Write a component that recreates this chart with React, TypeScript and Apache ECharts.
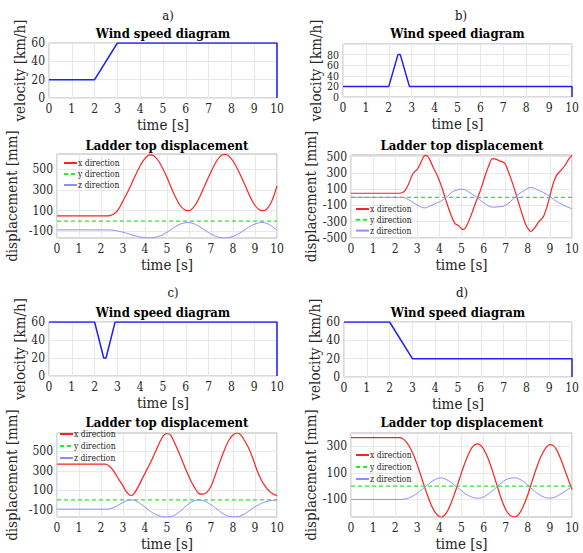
import React, { useEffect, useRef } from "react";
import * as echarts from "echarts";

type Pt = [number, number];

// ---------- data ----------
const panelLabels = ["a)", "b)", "c)", "d)"];
const windTitle = "Wind speed diagram";
const dispTitle = "Ladder top displacement";
const seriesNames = ["x direction", "y direction", "z direction"];

const windA: Pt[] = [[0, 20], [2, 20], [3, 60], [10, 60], [10, 0]];
const windB: Pt[] = [[0, 20], [2, 20], [2.4, 80], [2.5, 80], [2.9, 20], [10, 20], [10, 0]];
const windC: Pt[] = [[0, 60], [2, 60], [2.4, 20], [2.5, 20], [2.9, 60], [10, 60], [10, 0]];
const windD: Pt[] = [[0, 60], [2, 60], [3, 20], [10, 20], [10, 0]];

const dispAX: Pt[] = [[0, 50], [2.2, 50], [2.4, 53], [2.6, 70], [2.8, 115], [3.0, 195], [3.2, 275], [3.4, 365], [3.6, 458], [3.8, 542], [4.0, 605], [4.2, 640], [4.4, 632], [4.6, 585], [4.8, 510], [5.0, 420], [5.2, 320], [5.4, 225], [5.6, 150], [5.8, 108], [5.95, 100], [6.1, 110], [6.3, 160], [6.5, 240], [6.7, 335], [6.9, 430], [7.1, 520], [7.3, 595], [7.5, 638], [7.65, 645], [7.8, 630], [8.0, 580], [8.2, 505], [8.4, 415], [8.6, 320], [8.8, 225], [9.0, 150], [9.2, 108], [9.35, 100], [9.5, 110], [9.7, 165], [9.85, 240], [10, 340]];
const dispAZ: Pt[] = [[0, -85], [2.4, -86], [2.6, -90], [2.8, -98], [3.0, -108], [3.2, -120], [3.4, -133], [3.6, -145], [3.8, -155], [4.0, -161], [4.2, -164], [4.4, -161], [4.6, -150], [4.8, -132], [5.0, -108], [5.2, -80], [5.4, -52], [5.6, -30], [5.8, -17], [5.95, -14], [6.1, -18], [6.3, -33], [6.5, -56], [6.7, -85], [6.9, -113], [7.1, -137], [7.3, -154], [7.5, -163], [7.65, -164], [7.8, -160], [8.0, -148], [8.2, -128], [8.4, -103], [8.6, -75], [8.8, -48], [9.0, -28], [9.2, -16], [9.35, -14], [9.5, -20], [9.7, -40], [9.85, -62], [10, -88]];

const dispBX: Pt[] = [[0, 50], [2.2, 50], [2.4, 70], [2.6, 160], [2.8, 290], [3.0, 345], [3.15, 420], [3.3, 505], [3.4, 515], [3.55, 470], [3.7, 380], [3.9, 270], [4.1, 130], [4.3, -40], [4.5, -200], [4.7, -320], [4.85, -345], [5.0, -385], [5.1, -395], [5.25, -340], [5.45, -210], [5.65, -60], [5.85, 80], [6.05, 250], [6.25, 400], [6.4, 475], [6.55, 470], [6.75, 445], [6.95, 420], [7.1, 330], [7.3, 180], [7.5, 10], [7.7, -170], [7.9, -330], [8.05, -400], [8.15, -420], [8.3, -380], [8.5, -300], [8.7, -240], [8.85, -130], [9.0, 20], [9.15, 170], [9.3, 270], [9.5, 330], [9.7, 400], [9.85, 470], [10, 515]];
const dispBZ: Pt[] = [[0, 0], [2.3, 0], [2.5, -15], [2.7, -45], [2.9, -80], [3.1, -110], [3.3, -130], [3.45, -125], [3.6, -105], [3.8, -80], [4.0, -55], [4.2, -25], [4.4, 20], [4.6, 70], [4.8, 90], [5.0, 100], [5.15, 95], [5.3, 70], [5.5, 35], [5.7, 0], [5.9, -45], [6.1, -85], [6.3, -115], [6.5, -122], [6.7, -115], [6.9, -110], [7.1, -80], [7.3, -30], [7.5, 20], [7.7, 60], [7.9, 95], [8.1, 120], [8.25, 118], [8.45, 90], [8.7, 60], [8.9, 30], [9.1, -10], [9.3, -50], [9.5, -80], [9.7, -110], [9.9, -130], [10, -140]];

const dispCX: Pt[] = [[0, 370], [2.2, 370], [2.4, 345], [2.6, 290], [2.8, 215], [3.0, 145], [3.15, 85], [3.3, 50], [3.4, 47], [3.5, 65], [3.7, 140], [3.9, 230], [4.1, 320], [4.3, 410], [4.5, 510], [4.7, 610], [4.85, 665], [5.0, 685], [5.15, 670], [5.3, 610], [5.5, 510], [5.7, 400], [5.9, 290], [6.1, 190], [6.3, 110], [6.45, 65], [6.6, 60], [6.8, 75], [7.0, 140], [7.2, 260], [7.4, 390], [7.6, 510], [7.8, 610], [8.0, 670], [8.2, 690], [8.35, 670], [8.5, 620], [8.7, 540], [8.9, 430], [9.1, 300], [9.3, 200], [9.5, 130], [9.7, 80], [9.9, 52], [10, 48]];
const dispCZ: Pt[] = [[0, -95], [2.3, -95], [2.5, -85], [2.7, -65], [2.9, -40], [3.1, -15], [3.3, 0], [3.45, 0], [3.6, -12], [3.8, -40], [4.0, -75], [4.2, -110], [4.4, -140], [4.6, -160], [4.8, -172], [5.0, -176], [5.2, -170], [5.4, -150], [5.6, -115], [5.8, -75], [6.0, -38], [6.2, -12], [6.4, 0], [6.55, -2], [6.7, -12], [6.9, -35], [7.1, -65], [7.3, -100], [7.5, -135], [7.7, -160], [7.9, -173], [8.1, -176], [8.3, -168], [8.5, -148], [8.7, -118], [8.9, -85], [9.1, -58], [9.3, -35], [9.5, -18], [9.7, -7], [9.9, -2], [10, 0]];

const dispDX: Pt[] = [[0, 365], [2.2, 365], [2.4, 350], [2.6, 310], [2.8, 245], [3.0, 160], [3.2, 60], [3.4, -40], [3.6, -130], [3.8, -195], [4.0, -230], [4.1, -233], [4.3, -205], [4.5, -140], [4.7, -50], [4.9, 50], [5.1, 150], [5.3, 235], [5.5, 295], [5.7, 318], [5.85, 310], [6.0, 280], [6.2, 210], [6.4, 115], [6.6, 10], [6.8, -95], [7.0, -175], [7.2, -220], [7.4, -232], [7.6, -210], [7.8, -150], [8.0, -65], [8.2, 40], [8.4, 140], [8.6, 225], [8.8, 285], [9.0, 312], [9.15, 305], [9.3, 275], [9.5, 200], [9.7, 110], [9.9, 20], [10, -25]];
const dispDZ: Pt[] = [[0, -100], [2.3, -100], [2.5, -95], [2.7, -83], [2.9, -65], [3.1, -40], [3.3, -12], [3.5, 15], [3.7, 40], [3.9, 57], [4.05, 62], [4.2, 58], [4.4, 42], [4.6, 18], [4.8, -8], [5.0, -35], [5.2, -60], [5.4, -78], [5.6, -88], [5.75, -90], [5.9, -87], [6.1, -72], [6.3, -48], [6.5, -20], [6.7, 10], [6.9, 38], [7.1, 55], [7.3, 62], [7.45, 62], [7.6, 55], [7.8, 35], [8.0, 8], [8.2, -22], [8.4, -50], [8.6, -72], [8.8, -86], [9.0, -90], [9.2, -84], [9.4, -68], [9.6, -48], [9.8, -25], [10, -5]];

const dispYFlat: Pt[] = [[0, 0], [10, 0]];

const windData = [windA, windB, windC, windD];
const dispXData = [dispAX, dispBX, dispCX, dispDX];
const dispZData = [dispAZ, dispBZ, dispCZ, dispDZ];

const windMax = [60, 100, 60, 60];
const windTickValues = [[0, 20, 40, 60], [0, 20, 40, 60, 80, 100], [0, 20, 40, 60], [0, 20, 40, 60]];
// labels split into two interleaved sets so that dense labels are all drawn
const windLabelsA = [[0, 20, 40, 60], [0, 40, 80], [0, 20, 40, 60], [0, 20, 40, 60]];
const windLabelsB = [[], [20, 60], [], []];
const dispMin = [-164, -500, -176, -232];
const dispMax = [648, 520, 690, 400];
const dispTickValues = [[-100, 100, 300, 500], [-500, -300, -100, 100, 300, 500], [-100, 100, 300, 500], [-100, 100, 300]];

// ---------- layout ----------
const windGrids = [
  { left: 49, top: 43, width: 228, height: 55 },
  { left: 343, top: 44, width: 229, height: 53 },
  { left: 49, top: 322, width: 228, height: 54 },
  { left: 344, top: 322, width: 228, height: 55 },
];
const dispGrids = [
  { left: 57, top: 154, width: 220, height: 84 },
  { left: 351, top: 155, width: 221, height: 83 },
  { left: 57, top: 433, width: 220, height: 84 },
  { left: 351, top: 433, width: 221, height: 84 },
];
const windNameGap = [17, 20, 15, 21];
const dispNameGap = [38, 33, 38, 28];
const windTickSize = [12, 10.5, 12, 12];
const legendPos = [
  { left: 63, y0: 163, lh: 11 },
  { left: 355, y0: 209, lh: 10.8 },
  { left: 59, y0: 434, lh: 12 },
  { left: 355, y0: 455, lh: 12 },
];
const labelPos = [
  { x: 168, y: 15 }, { x: 461, y: 15 }, { x: 173, y: 292 }, { x: 462, y: 292 },
];
const windTitlePos = [
  { x: 163, y: 33 }, { x: 457.5, y: 33 }, { x: 163, y: 312 }, { x: 458, y: 312 },
];
const dispTitlePos = [
  { x: 167, y: 145 }, { x: 462, y: 145 }, { x: 167, y: 422 }, { x: 462, y: 422 },
];

const FONT = "DejaVu Serif Condensed, DejaVu Serif";
const WIND_COLOR = "#1f1fff";
const X_COLOR = "#ff2020";
const Y_COLOR = "#22ee22";
const Z_COLOR = "#8c8cff";
const BOX = "#b4b4b4";
const GRIDLINE = "#e8e8e8";
const TEXT = "#262626";
const TICK_SIZE = 12;
const NAME_SIZE = 15;
const TITLE_SIZE = 13;

function buildOption() {
  const grid: any[] = [];
  const xAxis: any[] = [];
  const yAxis: any[] = [];
  const series: any[] = [];
  const title: any[] = [];
  const legend: any[] = [];

  const baseX = (gi: number) => ({
    type: "value",
    gridIndex: gi,
    min: 0,
    max: 10,
    interval: 1,
    name: "time [s]",
    nameLocation: "middle",
    nameGap: 19,
    nameTextStyle: { fontFamily: FONT, fontSize: NAME_SIZE, color: TEXT },
    axisLine: { show: false },
    axisTick: { show: false },
    axisLabel: { fontFamily: FONT, fontSize: TICK_SIZE, color: TEXT, margin: 4.5 },
    splitLine: { show: true, lineStyle: { color: GRIDLINE, width: 1 } },
  });

  let yIndex = 0;
  for (let i = 0; i < 4; i++) {
    const wg = 2 * i;
    const dg = 2 * i + 1;
    grid.push({ ...windGrids[i], show: true, borderColor: BOX, borderWidth: 1, backgroundColor: "transparent" });
    grid.push({ ...dispGrids[i], show: true, borderColor: BOX, borderWidth: 1, backgroundColor: "transparent" });

    xAxis.push(baseX(wg));
    xAxis.push(baseX(dg));

    const windY = yIndex++;
    yAxis.push({
      type: "value",
      gridIndex: wg,
      min: 0,
      max: windMax[i],
      name: "velocity [km/h]",
      nameLocation: "middle",
      nameRotate: 90,
      nameGap: windNameGap[i],
      nameTextStyle: { fontFamily: FONT, fontSize: NAME_SIZE, color: TEXT },
      axisLine: { show: false },
      axisTick: { show: false, customValues: windTickValues[i] },
      axisLabel: { fontFamily: FONT, fontSize: windTickSize[i], color: TEXT, margin: 4, lineHeight: 10, customValues: windLabelsA[i] },
      splitLine: { show: true, lineStyle: { color: GRIDLINE, width: 1 } },
    });
    if (windLabelsB[i].length) {
      yIndex++;
      yAxis.push({
        type: "value",
        gridIndex: wg,
        position: "left",
        min: 0,
        max: windMax[i],
        axisLine: { show: false },
        axisTick: { show: false, customValues: windLabelsB[i] },
        axisLabel: { fontFamily: FONT, fontSize: windTickSize[i], color: TEXT, margin: 4, lineHeight: 10, customValues: windLabelsB[i] },
        splitLine: { show: false },
      });
    }
    const dispYIdx = yIndex++;
    yAxis.push({
      type: "value",
      gridIndex: dg,
      min: dispMin[i],
      max: dispMax[i],
      name: "displacement [mm]",
      nameLocation: "middle",
      nameRotate: 90,
      nameGap: dispNameGap[i],
      nameTextStyle: { fontFamily: FONT, fontSize: NAME_SIZE, color: TEXT },
      axisLine: { show: false },
      axisTick: { show: false, customValues: dispTickValues[i] },
      axisLabel: { fontFamily: FONT, fontSize: TICK_SIZE, color: TEXT, margin: 4, lineHeight: 12, customValues: dispTickValues[i] },
      splitLine: { show: true, lineStyle: { color: GRIDLINE, width: 1 } },
    });

    series.push({
      type: "line",
      name: "wind",
      xAxisIndex: wg,
      yAxisIndex: windY,
      data: windData[i],
      symbol: "none",
      lineStyle: { color: WIND_COLOR, width: 1.5 },
      itemStyle: { color: WIND_COLOR },
    });
    series.push({
      type: "line",
      name: seriesNames[0],
      xAxisIndex: dg,
      yAxisIndex: dispYIdx,
      data: dispXData[i],
      symbol: "none",
      smooth: 0.3,
      lineStyle: { color: X_COLOR, width: 1.2 },
      itemStyle: { color: X_COLOR },
    });
    series.push({
      type: "line",
      name: seriesNames[1],
      xAxisIndex: dg,
      yAxisIndex: dispYIdx,
      data: dispYFlat,
      symbol: "none",
      lineStyle: { color: Y_COLOR, width: 1.3, type: [4, 3] },
      itemStyle: { color: Y_COLOR },
    });
    series.push({
      type: "line",
      name: seriesNames[2],
      xAxisIndex: dg,
      yAxisIndex: dispYIdx,
      data: dispZData[i],
      symbol: "none",
      smooth: 0.3,
      lineStyle: { color: Z_COLOR, width: 1 },
      itemStyle: { color: Z_COLOR },
    });

    const rowTextH = 9;
    legend.push({
      data: seriesNames,
      orient: "vertical",
      left: legendPos[i].left,
      top: legendPos[i].y0 - rowTextH / 2,
      padding: 0,
      itemGap: legendPos[i].lh - rowTextH,
      itemWidth: 13,
      itemHeight: 8,
      selectedMode: false,
      itemStyle: { opacity: 0, borderWidth: 0 },
      textStyle: { fontFamily: FONT, fontSize: 8.5, color: TEXT, lineHeight: rowTextH, padding: [0, 0, 0, -4] },
    });

    title.push({
      text: panelLabels[i],
      left: labelPos[i].x,
      top: labelPos[i].y - 7,
      textAlign: "center",
      padding: 0,
      textStyle: { fontFamily: FONT, fontSize: TITLE_SIZE, lineHeight: 14, fontWeight: "normal", color: "#111" },
    });
    title.push({
      text: windTitle,
      left: windTitlePos[i].x,
      top: windTitlePos[i].y - 7,
      textAlign: "center",
      padding: 0,
      textStyle: { fontFamily: FONT, fontSize: TITLE_SIZE, lineHeight: 14, fontWeight: "bold", color: "#000" },
    });
    title.push({
      text: dispTitle,
      left: dispTitlePos[i].x,
      top: dispTitlePos[i].y - 7,
      textAlign: "center",
      padding: 0,
      textStyle: { fontFamily: FONT, fontSize: TITLE_SIZE, lineHeight: 14, fontWeight: "bold", color: "#000" },
    });
  }

  return {
    animation: false,
    backgroundColor: "#ffffff",
    title,
    legend,
    grid,
    xAxis,
    yAxis,
    series,
  };
}

export default function App() {
  const ref = useRef<HTMLDivElement>(null);
  useEffect(() => {
    document.body.style.margin = "0";
    if (!ref.current) return;
    const chart = echarts.init(ref.current, undefined, { renderer: "svg" });
    chart.setOption(buildOption() as any);
    return () => chart.dispose();
  }, []);
  return <div ref={ref} style={{ width: 583, height: 553 }} />;
}
